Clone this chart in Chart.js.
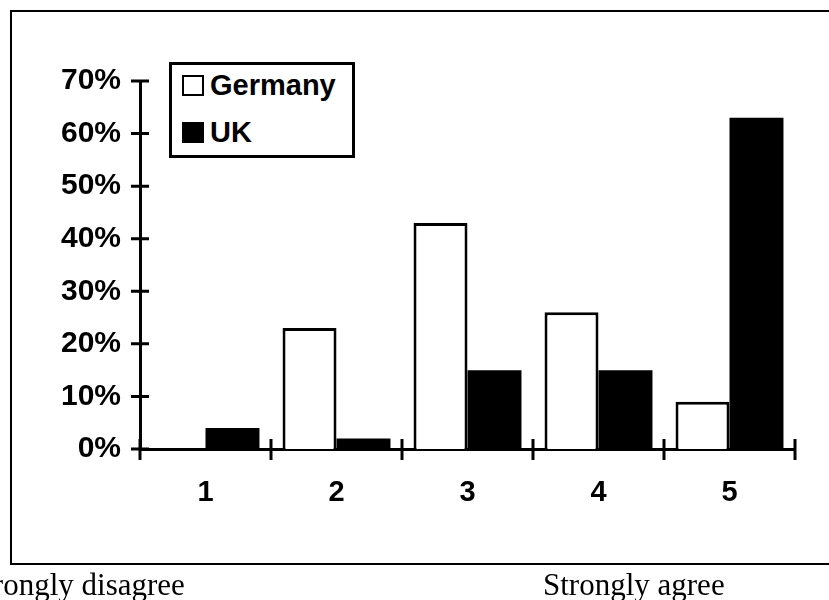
<!DOCTYPE html>
<html>
<head>
<meta charset="utf-8">
<script src="https://cdn.jsdelivr.net/npm/chart.js@4"></script>
<style>
  html, body { margin: 0; padding: 0; overflow: hidden; background: #fff; }
  #frame { position: absolute; left: 10px; top: 10px; width: 840px; height: 555px;
           border: 2.5px solid #000; box-sizing: border-box; }
  #chart { position: absolute; left: 0; top: 0; }
  .box { position: absolute; left: 169px; top: 62px; width: 186px; height: 96px;
         border: 3px solid #000; box-sizing: border-box; background: #fff; }
  .mark { position: absolute; left: 182px; width: 22px; height: 21px; box-sizing: border-box;
          border: 2.5px solid #000; }
  .lbl { position: absolute; left: 210px; font: bold 29px "Liberation Sans", Arial, sans-serif;
         line-height: 1; color: #000; }
  .note { position: absolute; top: 569px; font: 31px "Liberation Serif", "Times New Roman", serif;
          line-height: 1; color: #000; white-space: nowrap; }
</style>
</head>
<body>
<div id="frame"></div>
<canvas id="chart" width="829" height="600"></canvas>
<div class="box"></div>
<div class="mark" style="top:75px;background:#fff"></div>
<div class="lbl" style="top:71px">Germany</div>
<div class="mark" style="top:122px;background:#000"></div>
<div class="lbl" style="top:118px">UK</div>
<div class="note" style="left:-33px">Strongly disagree</div>
<div class="note" style="left:543px">Strongly agree</div>
<script>
const categories = ['1', '2', '3', '4', '5'];
const germany = [0, 23, 43, 26, 9];
const uk = [4, 2, 15, 15, 63];
const yMax = 70;
const yStep = 10;

// tick marks that cross the axis lines, like the old spreadsheet charts
const crossTicks = {
  id: 'crossTicks',
  afterDraw(chart) {
    const ctx = chart.ctx;
    const x = chart.scales.x;
    const y = chart.scales.y;
    const left = chart.chartArea.left;
    const bottom = chart.chartArea.bottom;
    ctx.save();
    ctx.strokeStyle = '#000';
    ctx.lineWidth = 3;
    ctx.beginPath();
    for (let v = 0; v <= yMax; v += yStep) {
      const py = y.getPixelForValue(v);
      ctx.moveTo(left - 9, py);
      ctx.lineTo(left + 9, py);
    }
    for (let i = 0; i <= categories.length; i++) {
      const px = x.getPixelForValue(i - 0.5);
      ctx.moveTo(px, bottom - 10);
      ctx.lineTo(px, bottom + 11);
    }
    ctx.stroke();
    ctx.restore();
  }
};

Chart.defaults.font.family = '"Liberation Sans", Arial, sans-serif';
Chart.defaults.font.size = 30;
Chart.defaults.font.weight = 'bold';
Chart.defaults.color = '#000';

new Chart(document.getElementById('chart').getContext('2d'), {
  type: 'bar',
  data: {
    labels: categories,
    datasets: [{
      label: 'Germany',
      data: germany,
      backgroundColor: '#fff',
      borderColor: '#000',
      borderWidth: 3,
      categoryPercentage: 0.824,
      barPercentage: 1
    }, {
      label: 'UK',
      data: uk,
      backgroundColor: '#000',
      borderWidth: 0,
      categoryPercentage: 0.824,
      barPercentage: 1
    }]
  },
  options: {
    responsive: false,
    animation: false,
    layout: { padding: { left: 0, right: 34, top: 81, bottom: 0 } },
    plugins: {
      legend: { display: false },
      tooltip: { enabled: false }
    },
    scales: {
      x: {
        grid: { display: false, drawTicks: false },
        border: { display: true, color: '#000', width: 3 },
        ticks: { padding: 27, font: { size: 29 } },
        afterFit: s => { s.height = 151; }
      },
      y: {
        min: 0,
        max: yMax,
        grid: { display: false, drawTicks: false },
        border: { display: true, color: '#000', width: 3 },
        ticks: { stepSize: yStep, padding: 19, callback: v => v + '%' },
        afterFit: s => { s.width = 140; }
      }
    }
  },
  plugins: [crossTicks]
});
</script>
</body>
</html>
